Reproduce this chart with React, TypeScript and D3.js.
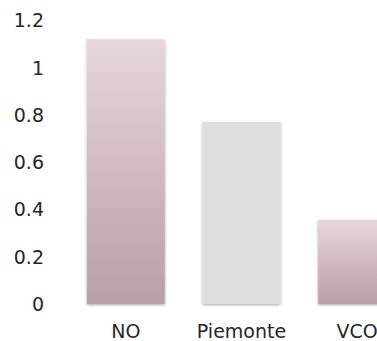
import React from "react";
import * as d3 from "d3";

const categories = ["NO", "Piemonte", "VCO"];
const values = [1.12, 0.77, 0.355];
const barFills = ["url(#roseGrad)", "#dedede", "url(#roseGrad)"];
const yTicks = [0, 0.2, 0.4, 0.6, 0.8, 1, 1.2];

const W = 377;
const H = 341;
const FONT = "'DejaVu Sans', sans-serif";

export default function App() {
  const x = d3
    .scaleBand<string>()
    .domain(categories)
    .range([68, 415])
    .paddingInner(0.326)
    .paddingOuter(0.163);
  const y = d3.scaleLinear().domain([0, 1.2]).range([304, 20.5]);
  const fmt = (v: number) => String(+v.toFixed(1));

  return (
    <svg
      width={W}
      height={H}
      style={{ position: "absolute", left: 0, top: 0, background: "#fff" }}
    >
      <defs>
        <linearGradient id="roseGrad" x1="0" y1="0" x2="0" y2="1">
          <stop offset="0%" stopColor="#e7d6db" />
          <stop offset="100%" stopColor="#b7a0a6" />
        </linearGradient>
        <filter id="barShadow" x="-10%" y="-5%" width="120%" height="110%">
          <feGaussianBlur in="SourceAlpha" stdDeviation="1.6" />
          <feOffset dx="0" dy="0.5" result="blur" />
          <feComponentTransfer>
            <feFuncA type="linear" slope="0.35" />
          </feComponentTransfer>
          <feMerge>
            <feMergeNode />
            <feMergeNode in="SourceGraphic" />
          </feMerge>
        </filter>
      </defs>

      {yTicks.map((t) => (
        <text
          key={t}
          x={44}
          y={y(t)}
          dy="0.36em"
          textAnchor="end"
          fontFamily={FONT}
          fontSize={19}
          fill="#262626"
        >
          {fmt(t)}
        </text>
      ))}

      {categories.map((c, i) => (
        <rect
          key={c}
          x={x(c)}
          y={y(values[i])}
          width={x.bandwidth()}
          height={y(0) - y(values[i])}
          fill={barFills[i]}
          filter="url(#barShadow)"
        />
      ))}

      {categories.map((c) => (
        <text
          key={c}
          x={(x(c) as number) + x.bandwidth() / 2}
          y={338}
          textAnchor="middle"
          fontFamily={FONT}
          fontSize={19}
          fill="#262626"
        >
          {c}
        </text>
      ))}
    </svg>
  );
}
